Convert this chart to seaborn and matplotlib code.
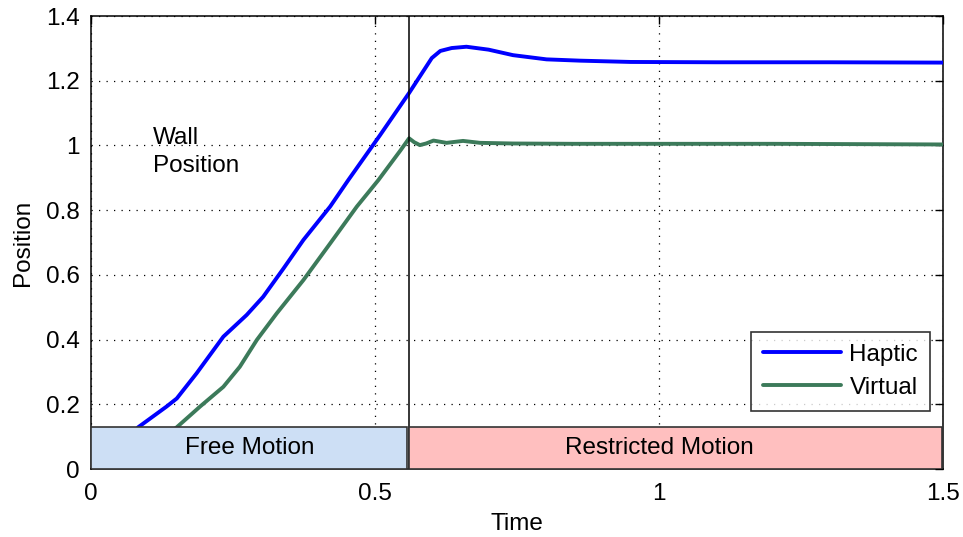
import matplotlib
matplotlib.use("Agg")
import matplotlib.pyplot as plt
import seaborn as sns
import pandas as pd
from matplotlib.patches import Rectangle

# ---- data ----
haptic_t = [0.0, 0.045, 0.083, 0.133, 0.151, 0.186, 0.233, 0.274, 0.303, 0.339, 0.374,
            0.421, 0.453, 0.509, 0.56, 0.600, 0.615, 0.635, 0.661, 0.700, 0.743, 0.802, 0.861,
            0.95, 1.1, 1.3, 1.5]
haptic_y = [0.0, 0.05, 0.129, 0.193, 0.218, 0.296, 0.409, 0.476, 0.532, 0.620, 0.708,
            0.811, 0.893, 1.032, 1.162, 1.270, 1.292, 1.301, 1.305, 1.296, 1.279, 1.266, 1.262,
            1.258, 1.257, 1.257, 1.256]
virtual_t = [0.0, 0.10, 0.151, 0.192, 0.233, 0.262, 0.292, 0.327, 0.374, 0.421, 0.468,
             0.506, 0.545, 0.56, 0.569, 0.579, 0.590, 0.603, 0.626, 0.655, 0.685, 0.743,
             0.85, 1.0, 1.2, 1.5]
virtual_y = [0.0, 0.06, 0.129, 0.193, 0.254, 0.316, 0.399, 0.481, 0.584, 0.697, 0.811,
             0.893, 0.985, 1.022, 1.010, 1.001, 1.006, 1.015, 1.008, 1.014, 1.008, 1.006,
             1.005, 1.005, 1.005, 1.003]
series_names = ["Haptic", "Virtual"]
wall_time = 0.56
box_height = 0.13
x_ticks = [0, 0.5, 1, 1.5]
x_ticklabels = ["0", "0.5", "1", "1.5"]
y_ticks = [0, 0.2, 0.4, 0.6, 0.8, 1.0, 1.2, 1.4]
y_ticklabels = ["0", "0.2", "0.4", "0.6", "0.8", "1", "1.2", "1.4"]

df = pd.concat([
    pd.DataFrame({"Time": haptic_t, "Position": haptic_y, "Series": series_names[0]}),
    pd.DataFrame({"Time": virtual_t, "Position": virtual_y, "Series": series_names[1]}),
])

sns.set_style("white")
plt.rcParams["font.family"] = ["Liberation Sans", "DejaVu Sans"]
plt.rcParams["text.color"] = "black"
plt.rcParams["axes.labelcolor"] = "black"
plt.rcParams["xtick.color"] = "black"
plt.rcParams["ytick.color"] = "black"
fs = 17.5

fig = plt.figure(figsize=(9.63, 5.37), dpi=100)
ax = fig.add_axes([0.0945, 0.1266, 0.8847, 0.8436])

sns.lineplot(data=df, x="Time", y="Position", hue="Series",
             palette={"Haptic": "#0000ff", "Virtual": "#3c7a5a"},
             linewidth=2.8, ax=ax, sort=False, estimator=None, zorder=3)

ax.axvline(wall_time, color="black", linewidth=1.1, zorder=4)

ax.add_patch(Rectangle((0, 0), wall_time - 0.004, box_height, facecolor="#cddff5",
                       edgecolor="#333333", linewidth=1.2, zorder=5))
ax.add_patch(Rectangle((wall_time, 0), 1.5 - wall_time - 0.001, box_height, facecolor="#ffbfbf",
                       edgecolor="#333333", linewidth=1.2, zorder=5))
ax.text(wall_time / 2, box_height / 2, "Free Motion", ha="center", va="center",
        fontsize=fs, zorder=6, color="black")
ax.text((wall_time + 1.5) / 2 - 0.03, box_height / 2, "Restricted Motion", ha="center",
        va="center", fontsize=fs, zorder=6, color="black")
ax.text(0.109, 0.98, "Wall\nPosition", ha="left", va="center", fontsize=fs,
        linespacing=1.35, color="black")

ax.set_xlim(0, 1.5)
ax.set_ylim(0, 1.4)
ax.set_xticks(x_ticks)
ax.set_xticklabels(x_ticklabels)
ax.set_yticks(y_ticks)
ax.set_yticklabels(y_ticklabels)
ax.grid(True, linestyle=(0, (1, 5)), color="black", linewidth=0.9)
ax.tick_params(direction="in", length=6, width=1, top=True, right=True,
               labelsize=fs, colors="black")
ax.tick_params(axis="x", pad=10)
ax.tick_params(axis="y", pad=8)
for s in ax.spines.values():
    s.set_color("black")
    s.set_linewidth(1.1)
ax.set_xlabel("Time", fontsize=fs, labelpad=6, color="black")
ax.set_ylabel("Position", fontsize=fs, labelpad=9, color="black")

leg = ax.legend(loc="lower right", bbox_to_anchor=(0.985, 0.128), borderaxespad=0,
                fontsize=fs, frameon=True, fancybox=False, handlelength=3.2,
                handletextpad=0.35, borderpad=0.5, labelspacing=0.45)
leg.get_frame().set_edgecolor("black")
leg.get_frame().set_linewidth(1.2)
for t in leg.get_texts():
    t.set_color("black")
leg.set_zorder(7)

fig.savefig("out.png", dpi=100)
